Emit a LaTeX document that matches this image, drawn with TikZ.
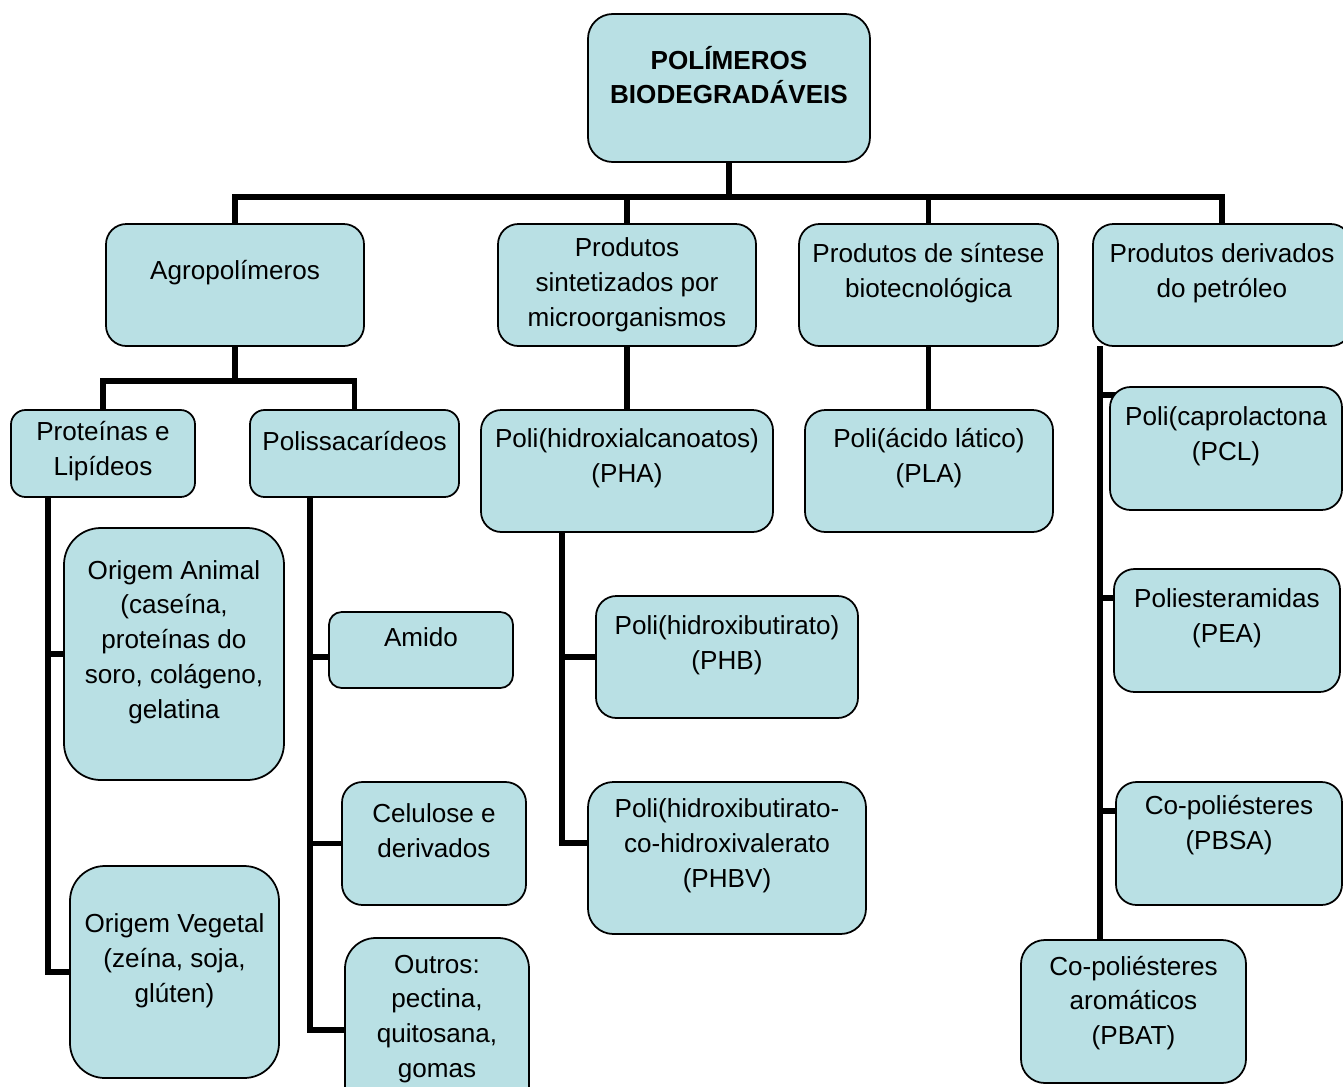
\documentclass[tikz,border=0pt]{standalone}
\usepackage{fontspec}
\setmainfont{Liberation Sans}
\usetikzlibrary{calc, backgrounds}
\definecolor{azulclaro}{RGB}{185,224,228}

% caixa: nome, x1, y1, x2, y2, y do texto, texto
\newcommand{\caixa}[7]{%
  \pgfmathsetmacro{\cxL}{(#4-#2)*0.02}%
  \pgfmathsetmacro{\cxA}{(#5-#3)*0.02}%
  \pgfmathsetmacro{\cxR}{0.167*min(\cxL,\cxA)}%
  \node[bloco, minimum width=\cxL cm, minimum height=\cxA cm, rounded corners=\cxR cm]
    (#1) at ({(#2+#4)/2},{(#3+#5)/2}) {};
  \node[rotulo] (#1-txt) at ({(#2+#4)/2},{#6+3}) {#7};
}

\begin{document}
\begin{tikzpicture}[x=0.02cm, y=-0.02cm,
    bloco/.style={draw=black, line width=1pt, fill=azulclaro, inner sep=0pt, outer sep=0pt},
    rotulo/.style={align=center, inner sep=0pt, font=\fontsize{14.85}{19.85}\selectfont},
    liga/.style={line width=3.4pt}]
    % --- 0. área da figura ---
    \useasboundingbox (0,0) rectangle (1343,1086);
    \clip (0,0) rectangle (1343,1086);

    % --- 1. raiz e primeiro nível ---
    \caixa{raiz}{588}{14}{870}{162}{72}{\textbf{POLÍMEROS}\\\textbf{BIODEGRADÁVEIS}}
    \caixa{agro}{106}{224}{364}{346}{270}{Agropolímeros}
    \caixa{micro}{498}{224}{756}{346}{282}{Produtos\\sintetizados por\\microorganismos}
    \caixa{sintese}{799}{224}{1058}{346}{270}{Produtos de síntese\\biotecnológica}
    \caixa{petro}{1093}{224}{1351}{346}{270}{Produtos derivados\\do petróleo}

    % --- 2. segundo nível ---
    \caixa{prot}{11}{410}{195}{497}{448}{Proteínas e\\Lipídeos}
    \caixa{polis}{250}{410}{459}{497}{438}{Polissacarídeos}
    \caixa{pha}{481}{410}{773}{532}{455}{Poli(hidroxialcanoatos)\\(PHA)}
    \caixa{pla}{805}{410}{1053}{532}{455}{Poli(ácido lático)\\(PLA)}
    \caixa{pcl}{1110}{387}{1342}{510}{433}{Poli(caprolactona\\(PCL)}

    % --- 3. folhas ---
    \caixa{animal}{64}{528}{284}{780}{639}{Origem Animal\\(caseína,\\proteínas do\\soro, colágeno,\\gelatina}
    \caixa{vegetal}{70}{866}{279}{1078}{958}{Origem Vegetal\\(zeína, soja,\\glúten)}
    \caixa{amido}{329}{612}{513}{688}{634}{Amido}
    \caixa{celulose}{342}{782}{526}{905}{828}{Celulose e\\derivados}
    \caixa{outros}{345}{938}{529}{1122}{1016}{Outros:\\pectina,\\quitosana,\\gomas}
    \caixa{phb}{596}{596}{858}{718}{642}{Poli(hidroxibutirato)\\(PHB)}
    \caixa{phbv}{588}{782}{866}{934}{843}{Poli(hidroxibutirato-\\co-hidroxivalerato\\(PHBV)}
    \caixa{pea}{1114}{569}{1340}{692}{615}{Poliesteramidas\\(PEA)}
    \caixa{pbsa}{1116}{782}{1342}{905}{822}{Co-poliésteres\\(PBSA)}
    \caixa{pbat}{1021}{940}{1246}{1083}{1000}{Co-poliésteres\\aromáticos\\(PBAT)}

    % --- 4. ligações ---
    \begin{scope}[on background layer]
    \draw[liga] (raiz.south) -- ++(0,35) coordinate (barra);
    \foreach \f in {agro,micro,sintese,petro} \draw[liga] (barra) -| (\f.north);

    \draw[liga] (agro.south) -- ++(0,35) coordinate (barra2);
    \foreach \f in {prot,polis} \draw[liga] (barra2) -| (\f.north);

    \draw[liga] (micro.south) -- (pha.north);
    \draw[liga] (sintese.south) -- (sintese.south |- pla.north);

    \path (prot.south west) ++(37,0) coordinate (tprot);
    \foreach \f in {animal,vegetal} \draw[liga] (tprot) |- (\f.west);

    \path (polis.south west) ++(60,0) coordinate (tpolis);
    \draw[liga] (tpolis) |- ([yshift=-0.14cm]amido.west);
    \foreach \f in {celulose,outros} \draw[liga] (tpolis) |- (\f.west);

    \path (pha.south west) ++(81,0) coordinate (tpha);
    \draw[liga] (tpha) |- (phb.west);
    \draw[liga] (tpha) |- ([yshift=0.3cm]phbv.west);

    \path (petro.south west) ++(7,0) coordinate (tpetro);
    \draw[liga] (tpetro) -- (tpetro |- pbat.north);
    \draw[liga] (tpetro) |- ([xshift=4pt,yshift=1.07cm]pcl.west);
    \draw[liga] (tpetro) |- ([yshift=0.66cm]pea.west);
    \draw[liga] (tpetro) |- ([yshift=0.66cm]pbsa.west);
    \end{scope}
\end{tikzpicture}
\end{document}
